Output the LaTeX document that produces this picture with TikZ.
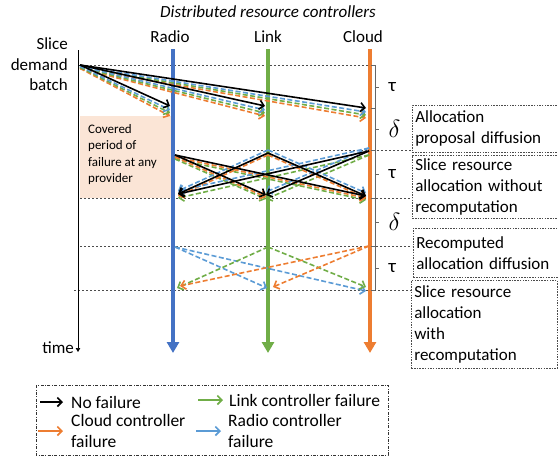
\documentclass[tikz,border=0pt]{standalone}
\usepackage{fontspec}
\setmainfont{Carlito}
\usetikzlibrary{calc, arrows.meta}
\definecolor{radioblue}{HTML}{4472C4}
\definecolor{linkgreen}{HTML}{70AD47}
\definecolor{cloudorange}{HTML}{ED7D31}
\definecolor{failblue}{HTML}{5B9BD5}
\definecolor{peach}{HTML}{FBE5D6}
\tikzset{
  ctrl/.style={line width=4pt, -{Triangle[length=11pt,width=12pt]}},
  msg/.style={line width=1.6pt, -{Straight Barb[length=4.5pt,width=9pt]}},
  fmsg/.style={msg, dash pattern=on 5pt off 2.5pt},
  dotline/.style={black!70, line width=0.6pt, dash pattern=on 2pt off 2pt},
  phasebox/.style={draw=black!70, line width=0.6pt, dash pattern=on 1.5pt off 1.2pt,
    anchor=north west, text width=140pt, inner xsep=3pt,
    align=left, font=\fontsize{17}{21}\selectfont},
  head/.style={font=\fontsize{17}{20.5}\selectfont, inner sep=0pt},
  leg/.style={font=\fontsize{17.5}{21}\selectfont, align=left, anchor=west, inner sep=0pt},
}
\begin{document}
\begin{tikzpicture}[x=1pt, y=-1pt]
  \useasboundingbox (0,0) rectangle (558,458);
  % labels on top and left
  \node[font=\fontsize{17}{20}\selectfont\itshape] (title) at (268,12) {Distributed resource controllers};
  \node[head] (radio) at (170,37) {Radio};
  \node[head] (link) at (268,37) {Link};
  \node[head] (cloud) at (363,37) {Cloud};
  \node[head, align=right, anchor=east] (batch) at (68,64.5) {Slice\\demand\\batch};
  % covered period
  \fill[peach] (80,116) rectangle (172,198);
  \node[font=\fontsize{13}{16.5}\selectfont, align=left, anchor=north west, inner sep=0pt] (covered) at (88,124)
    {Covered\\period of\\failure at any\\provider};
  % phase boundaries
  \draw[dotline] (78,65) -- (375,65);
  \draw[dotline] (173,150) -- (412,150);
  \draw[dotline] (80,198) -- (412,198);
  \draw[dotline] (80,246) -- (412,246);
  \draw[dotline] (74,290) -- (412,290);
  % time axis and controllers
  \coordinate (t0) at (78,50);
  \coordinate (t1) at (78,352);
  \draw[line width=0.6pt, -{Triangle[length=4pt,width=4.5pt]}] (t0) -- (t1);
  \node[head, anchor=east] (time) at (74,348) {time};
  \coordinate (Rtop) at (173,49); \coordinate (Rbot) at (173,353);
  \coordinate (Ltop) at (268,49); \coordinate (Lbot) at (268,353);
  \coordinate (Ctop) at (370,49); \coordinate (Cbot) at (370,353);
  \draw[ctrl, radioblue] (Rtop) -- (Rbot);
  \draw[ctrl, linkgreen] (Ltop) -- (Lbot);
  \draw[ctrl, cloudorange] (Ctop) -- (Cbot);
  % durations
  \draw[black!60, line width=0.6pt] (375,65) -- (375,290);
  \foreach \y in {65,108,150,198,246,290}
    \draw[black!60, line width=0.6pt] (371,\y) -- (375,\y);
  \foreach \y/\d in {87/τ, 129/{\fontsize{25}{25}\selectfont$\delta$}, 174/τ, 222/{\fontsize{25}{25}\selectfont$\delta$}, 268/τ}
    \draw[black!60, line width=0.6pt] (375,\y) -- (379,\y) node[right=6pt, black, font=\fontsize{19}{20}\selectfont] {\d};
  % phase 1: proposal diffusion
  \coordinate (src) at (80,65);
  \coordinate (R1) at (170,106);
  \coordinate (L1) at (265,106);
  \coordinate (C1) at (366,108);
  \foreach \col/\o/\sty in {cloudorange/10/fmsg, linkgreen/7/fmsg, failblue/4/fmsg, black/0/msg}
    \foreach \t in {R1, L1, C1}
      \draw[\sty, \col] ($(src)+(0,\o/3)$) -- ($(\t)+(0,\o)$);
  % phase 2: allocation without recomputation
  \coordinate (Rs) at (175,155); \coordinate (Re) at (178,194);
  \coordinate (Ls) at (268,153); \coordinate (Le) at (266,195);
  \coordinate (Cs) at (369,151); \coordinate (Ce) at (366,196);
  \foreach \col/\o/\fail/\sty in {linkgreen/4/L/fmsg, cloudorange/2/C/fmsg, failblue/-3/R/fmsg, black/0/N/msg}
    \foreach \s/\t in {R/L, R/C, L/R, L/C, C/R, C/L} {
      \ifx\s\fail\else
        \draw[\sty, \col] ($(\s s)+(0,\o)$) -- ($(\t e)+(0,\o)$);
      \fi
    }
  % phase 3: recomputed allocation diffusion
  \coordinate (R3s) at (175,247); \coordinate (R3e) at (177,288);
  \coordinate (L3s) at (268,247); \coordinate (L3e) at (267,288);
  \coordinate (C3s) at (369,246); \coordinate (C3e) at (366,289);
  \draw[fmsg, failblue] (R3s) -- (L3e);
  \draw[fmsg, failblue] (R3s) -- ($(C3e)+(0,2)$);
  \draw[fmsg, linkgreen] (L3s) -- (R3e);
  \draw[fmsg, linkgreen] (L3s) -- ($(C3e)+(0,-2)$);
  \draw[fmsg, cloudorange] (C3s) -- ($(R3e)+(3,-2)$);
  \draw[fmsg, cloudorange] (C3s) -- ($(L3e)+(6,-1)$);
  % phase descriptions
  \node[phasebox, minimum height=47pt] (prop) at (412,105) {Allocation\\proposal diffusion};
  \node[phasebox, minimum height=63pt] (norecomp) at (412,155) {Slice resource\\allocation without\\recomputation};
  \node[phasebox, minimum height=49pt] (recompdiff) at (413,228) {Recomputed\\allocation diffusion};
  \node[phasebox, minimum height=88pt] (recomp) at (411,280) {Slice resource\\allocation\\with\\recomputation};
  % legend
  \draw[black!80, line width=0.6pt, dash pattern=on 3pt off 1.5pt on 0.8pt off 1.5pt] (36,385) rectangle (388,455);
  \node[leg] (nofail) at (71,402) {No failure};
  \node[leg] (linkfail) at (229,400) {Link controller failure};
  \node[leg] (cloudfail) at (71,431) {Cloud controller\\failure};
  \node[leg] (radiofail) at (228,431) {Radio controller\\failure};
  \draw[msg, black] ($(nofail.west)+(-31,0)$) -- ($(nofail.west)+(-8,0)$);
  \draw[msg, linkgreen] ($(linkfail.west)+(-31,0)$) -- ($(linkfail.west)+(-6,0)$);
  \draw[msg, cloudorange] ($(cloudfail.west)+(-33,0)$) -- ($(cloudfail.west)+(-8,0)$);
  \draw[msg, failblue] ($(radiofail.west)+(-32,0)$) -- ($(radiofail.west)+(-7,0)$);
\end{tikzpicture}
\end{document}
